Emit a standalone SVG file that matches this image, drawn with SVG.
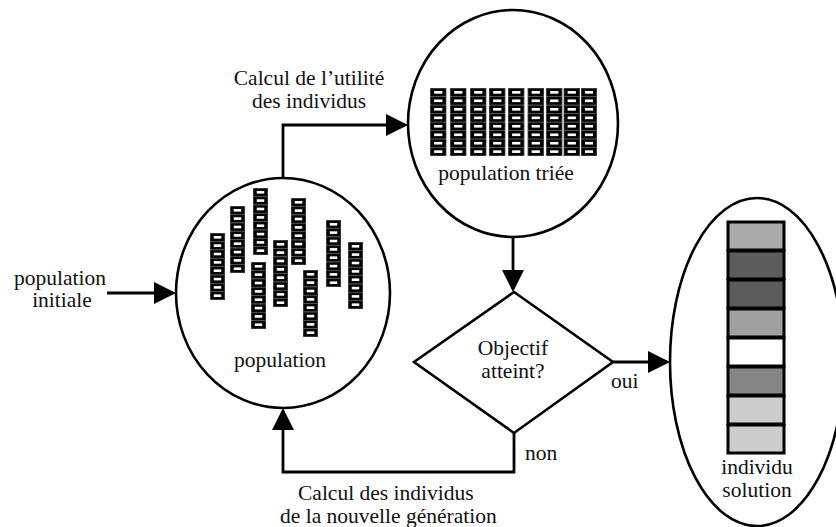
<svg xmlns="http://www.w3.org/2000/svg" xmlns:xlink="http://www.w3.org/1999/xlink" width="836" height="527" viewBox="0 0 836 527">
<style>
text{font-family:"Liberation Serif","Times New Roman",serif;font-size:21.5px;fill:#111}
.c{text-anchor:middle}
.shape{fill:#fff;stroke:#000;stroke-width:2.6}
.link{fill:none;stroke:#000;stroke-width:2.8;marker-end:url(#ah)}
.cell{stroke:#000;stroke-width:3}
</style>
<defs>
<marker id="ah" viewBox="0 0 22 22" refX="19" refY="11" markerWidth="22" markerHeight="22" markerUnits="userSpaceOnUse" orient="auto">
<path d="M0,0 L22,11 L0,22 z" fill="#000"/>
</marker>
<symbol id="chr" viewBox="0 0 16 67" preserveAspectRatio="none">
<rect x="0" y="0" width="16" height="67" fill="#000"/>
<g fill="#000" stroke="#777" stroke-width="0.5">
<rect x="0.5" y="0.3" width="15" height="8.1"/><rect x="0.5" y="8.6" width="15" height="8.1"/>
<rect x="0.5" y="17" width="15" height="8.1"/><rect x="0.5" y="25.4" width="15" height="8.1"/>
<rect x="0.5" y="33.7" width="15" height="8.1"/><rect x="0.5" y="42.1" width="15" height="8.1"/>
<rect x="0.5" y="50.4" width="15" height="8.1"/><rect x="0.5" y="58.7" width="15" height="8.1"/>
</g>
<g fill="#fff">
<rect x="4" y="3" width="8" height="2.6"/><rect x="4" y="11.3" width="8" height="2.6"/>
<rect x="4" y="19.7" width="8" height="2.6"/><rect x="4" y="28.1" width="8" height="2.6"/>
<rect x="4" y="36.4" width="8" height="2.6"/><rect x="4" y="44.8" width="8" height="2.6"/>
<rect x="4" y="53.1" width="8" height="2.6"/><rect x="4" y="61.4" width="8" height="2.6"/>
</g>
</symbol>
</defs>

<g id="connectors">
<path class="link" d="M107,293 H173"/>
<path class="link" d="M283,178 V125 H405"/>
<path class="link" d="M513,237 V289"/>
<path class="link" d="M613,362 H667"/>
<path class="link" d="M514,433 V472 H283 V411"/>
</g>

<g id="label-initiale">
<text class="c" x="60" y="285">population</text>
<text class="c" x="62" y="307">initiale</text>
</g>

<g id="label-utilite">
<text class="c" x="309" y="85">Calcul de l’utilité</text>
<text class="c" x="309" y="108">des individus</text>
</g>

<g id="population">
<ellipse class="shape" cx="283" cy="293" rx="107" ry="115"/>
<use xlink:href="#chr" href="#chr" x="210" y="233" width="15" height="67"/>
<use xlink:href="#chr" href="#chr" x="230" y="206" width="15" height="67"/>
<use xlink:href="#chr" href="#chr" x="253" y="188" width="15" height="67"/>
<use xlink:href="#chr" href="#chr" x="251" y="262" width="15" height="67"/>
<use xlink:href="#chr" href="#chr" x="273" y="240" width="15" height="67"/>
<use xlink:href="#chr" href="#chr" x="291" y="198" width="15" height="67"/>
<use xlink:href="#chr" href="#chr" x="303" y="270" width="15" height="67"/>
<use xlink:href="#chr" href="#chr" x="326" y="220" width="15" height="67"/>
<use xlink:href="#chr" href="#chr" x="348" y="242" width="15" height="67"/>
<text class="c" x="280" y="367">population</text>
</g>

<g id="population-triee">
<ellipse class="shape" cx="513" cy="123.5" rx="105" ry="113.5"/>
<use xlink:href="#chr" href="#chr" x="430" y="88" width="16.5" height="68"/>
<use xlink:href="#chr" href="#chr" x="450" y="88" width="16.5" height="68"/>
<use xlink:href="#chr" href="#chr" x="470" y="88" width="16.5" height="68"/>
<use xlink:href="#chr" href="#chr" x="489" y="88" width="16.5" height="68"/>
<use xlink:href="#chr" href="#chr" x="508" y="88" width="16.5" height="68"/>
<use xlink:href="#chr" href="#chr" x="527.5" y="88" width="16.5" height="68"/>
<use xlink:href="#chr" href="#chr" x="546" y="88" width="16.5" height="68"/>
<use xlink:href="#chr" href="#chr" x="563.5" y="88" width="16.5" height="68"/>
<use xlink:href="#chr" href="#chr" x="581" y="88" width="16" height="68"/>
<text class="c" x="506" y="180">population triée</text>
</g>

<g id="objectif">
<path class="shape" d="M514,292 L613,362 L514,433 L414,362 Z"/>
<text class="c" x="513" y="355">Objectif</text>
<text class="c" x="513" y="378">atteint?</text>
</g>

<g id="label-oui"><text x="611" y="388">oui</text></g>
<g id="label-non"><text x="525" y="460">non</text></g>

<g id="individu-solution">
<ellipse class="shape" cx="757" cy="362" rx="87" ry="164"/>
<rect class="cell" x="728" y="222" width="56" height="28" fill="#aaaaaa"/>
<rect class="cell" x="728" y="251" width="56" height="28" fill="#5c5c5c"/>
<rect class="cell" x="728" y="280" width="56" height="28" fill="#5c5c5c"/>
<rect class="cell" x="728" y="309" width="56" height="28" fill="#a0a0a0"/>
<rect class="cell" x="728" y="338" width="56" height="28" fill="#ffffff"/>
<rect class="cell" x="728" y="367" width="56" height="28" fill="#858585"/>
<rect class="cell" x="728" y="396" width="56" height="28" fill="#cccccc"/>
<rect class="cell" x="728" y="425" width="56" height="28" fill="#cccccc"/>
<text class="c" x="757" y="474">individu</text>
<text class="c" x="757" y="497">solution</text>
</g>

<g id="label-nouvelle">
<text x="298" y="500">Calcul des individus</text>
<text x="280" y="523">de la nouvelle génération</text>
</g>
</svg>
